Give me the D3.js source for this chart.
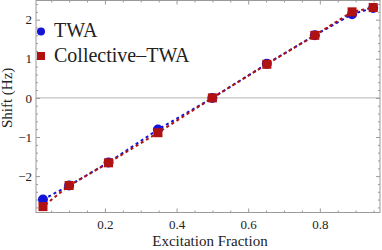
<!DOCTYPE html>
<html>
<head>
<meta charset="utf-8">
<script src="https://cdn.jsdelivr.net/npm/d3@7"></script>
<style>
  body { margin: 0; background: #fff; }
  text { font-family: "Liberation Serif", "DejaVu Serif", serif; fill: #222; }
</style>
</head>
<body>
<svg id="viz" width="382" height="250"></svg>
<script>
// --- Data ---
const excitation = [0.027, 0.1, 0.21, 0.348, 0.5, 0.652, 0.786, 0.89, 0.949];
const twaShift = [-2.6, -2.24, -1.65, -0.81, 0, 0.87, 1.6, 2.14, 2.3];
const collectiveShift = [-2.78, -2.24, -1.66, -0.89, 0, 0.86, 1.6, 2.2, 2.31];
const xTicks = [0.2, 0.4, 0.6, 0.8];
const yTicks = [-2, -1, 0, 1, 2];
const seriesNames = ["TWA", "Collective\u2013TWA"];

const COLORS = {
    twa: "#1414d8",
    coll: "#b01212",
    frame: "#9a9a9a",
    zero: "#b4b4b4"
};

const svg = d3.select("#viz");
const plot = { left: 36, right: 380, top: 0.5, bottom: 212.5 };

const x = d3.scaleLinear().domain([0.0075, 0.968]).range([plot.left, plot.right]);
const y = d3.scaleLinear().domain([-2.93, 2.49]).range([plot.bottom, plot.top]);

// --- zero line ---
svg.append("line")
    .attr("x1", plot.left).attr("x2", plot.right)
    .attr("y1", y(0)).attr("y2", y(0))
    .attr("stroke", COLORS.zero).attr("stroke-width", 1);

// --- frame with inward ticks ---
const xMinor = d3.range(0.05, 0.97, 0.05).filter(v => !xTicks.some(t => Math.abs(t - v) < 1e-6));
const yMinor = d3.range(-2.8, 2.5, 0.2).filter(v => !yTicks.some(t => Math.abs(t - v) < 1e-6));

function frameAxis(axis, transform, major, minor) {
    const g = svg.append("g").attr("transform", transform);
    g.call(axis.tickValues(minor).tickSize(-2).tickFormat(""));
    g.select(".domain").remove();
    const g2 = svg.append("g").attr("transform", transform);
    g2.call(axis.tickValues(major).tickSize(-4).tickFormat(null));
    g2.select(".domain").remove();
    [g, g2].forEach(s => s.selectAll("line").attr("stroke", COLORS.frame));
    return g2;
}

const bottomAx = frameAxis(d3.axisBottom(x), `translate(0,${plot.bottom})`, xTicks, xMinor);
bottomAx.selectAll("text").attr("dy", null).attr("y", 16).attr("font-size", 13)
    .text(d => d3.format(".1f")(d));
const topAx = frameAxis(d3.axisTop(x), `translate(0,${plot.top})`, xTicks, xMinor);
topAx.selectAll("text").remove();
const leftAx = frameAxis(d3.axisLeft(y), `translate(${plot.left},0)`, yTicks, yMinor);
leftAx.selectAll("text").attr("x", -4).attr("font-size", 13)
    .text(d => d < 0 ? "\u2212" + Math.abs(d) : d);
const rightAx = frameAxis(d3.axisRight(y), `translate(${plot.right},0)`, yTicks, yMinor);
rightAx.selectAll("text").remove();

svg.append("rect")
    .attr("x", plot.left).attr("y", plot.top)
    .attr("width", plot.right - plot.left).attr("height", plot.bottom - plot.top)
    .attr("fill", "none").attr("stroke", COLORS.frame).attr("stroke-width", 1);

// --- axis labels ---
svg.append("text")
    .attr("x", (plot.left + plot.right) / 2 + 2).attr("y", 246)
    .attr("text-anchor", "middle").attr("font-size", 15)
    .text("Excitation Fraction");
svg.append("text")
    .attr("transform", `translate(12,${y(0)}) rotate(-90)`)
    .attr("text-anchor", "middle").attr("font-size", 15)
    .text("Shift (Hz)");

// --- series ---
const twaData = excitation.map((e, i) => ({ x: e, y: twaShift[i] }));
const collData = excitation.map((e, i) => ({ x: e, y: collectiveShift[i] }));
const line = d3.line().x(d => x(d.x)).y(d => y(d.y));

svg.append("path").datum(twaData)
    .attr("d", line).attr("fill", "none")
    .attr("stroke", COLORS.twa).attr("stroke-width", 2)
    .attr("stroke-dasharray", "3,3");

svg.append("g").selectAll("circle")
    .data(twaData).join("circle")
    .attr("cx", d => x(d.x)).attr("cy", d => y(d.y))
    .attr("r", 5).attr("fill", COLORS.twa);

svg.append("path").datum(collData)
    .attr("d", line).attr("fill", "none")
    .attr("stroke", COLORS.coll).attr("stroke-width", 2)
    .attr("stroke-dasharray", "3,3").attr("stroke-dashoffset", 3);

const sq = 9;
svg.append("g").selectAll("rect")
    .data(collData).join("rect")
    .attr("x", d => x(d.x) - sq / 2).attr("y", d => y(d.y) - sq / 2)
    .attr("width", sq).attr("height", sq).attr("fill", COLORS.coll);

// --- legend ---
const legend = svg.append("g");
legend.append("circle").attr("cx", 41).attr("cy", 31.5).attr("r", 4).attr("fill", COLORS.twa);
legend.append("rect").attr("x", 37).attr("y", 52).attr("width", 8).attr("height", 8).attr("fill", COLORS.coll);
legend.selectAll("text")
    .data(seriesNames).join("text")
    .attr("x", 54).attr("y", (d, i) => 37 + i * 25)
    .attr("font-size", 20)
    .text(d => d);
</script>
</body>
</html>
